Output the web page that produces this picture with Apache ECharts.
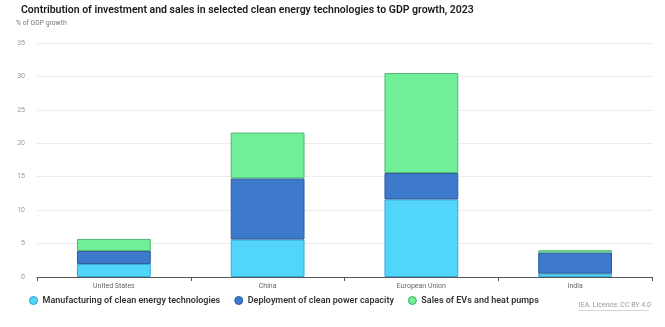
<!DOCTYPE html>
<html>
<head>
<meta charset="utf-8">
<script src="https://cdn.jsdelivr.net/npm/echarts@6/dist/echarts.min.js"></script>
<style>
  html, body { margin: 0; padding: 0; background: #fff; }
  #chart { width: 665px; height: 327px; }
</style>
</head>
<body>
<div id="chart"></div>
<script>
// Regions on the category axis
const regions = ['United States', 'China', 'European Union', 'India'];

// Contribution to GDP growth, % of GDP growth
const manufacturing = [1.95, 5.6, 11.6, 0.5];
const deployment = [1.95, 9.15, 3.95, 3.15];
const salesEVsHeatPumps = [1.8, 6.85, 14.95, 0.35];

// Value axis ticks
const yMin = 0, yMax = 35, yStep = 5;

const FONT = 'Roboto, "Noto Sans", sans-serif';

function stackSeries(name, data, color, border) {
  return {
    name: name,
    type: 'bar',
    stack: 'total',
    data: data,
    barWidth: '48%',
    itemStyle: { color: color, borderColor: border, borderWidth: 1 },
    emphasis: { disabled: true }
  };
}

const chart = echarts.init(document.getElementById('chart'), null, { renderer: 'canvas' });
chart.setOption({
  animation: false,
  textStyle: { fontFamily: FONT },
  title: [
    {
      text: 'Contribution of investment and sales in selected clean energy technologies to GDP growth, 2023',
      left: 16, top: 0,
      textStyle: { fontSize: 10.5, fontWeight: 600, color: '#1a1a1a', fontFamily: FONT }
    },
    {
      text: '% of GDP growth',
      left: 11, top: 15,
      textStyle: { fontSize: 6.8, fontWeight: 400, color: '#777', fontFamily: FONT }
    }
  ],
  grid: { left: 37, right: 13, top: 43, bottom: 50, containLabel: false },
  legend: {
    left: 24, top: 291,
    icon: 'circle',
    itemWidth: 8, itemHeight: 8, itemGap: 14,
    textStyle: { fontSize: 9, fontWeight: 600, color: '#333', fontFamily: FONT },
    data: [
      { name: 'Manufacturing of clean energy technologies', itemStyle: { borderColor: '#2e9fc4', borderWidth: 1 } },
      { name: 'Deployment of clean power capacity', itemStyle: { borderColor: '#2a5c9e', borderWidth: 1 } },
      { name: 'Sales of EVs and heat pumps', itemStyle: { borderColor: '#3fae63', borderWidth: 1 } }
    ]
  },
  xAxis: {
    type: 'category',
    data: regions,
    axisLine: { lineStyle: { color: '#555', width: 1 } },
    axisTick: { show: true, length: 4, lineStyle: { color: '#555' } },
    axisLabel: { fontSize: 7, color: '#666', margin: 6 }
  },
  yAxis: {
    type: 'value',
    min: yMin, max: yMax, interval: yStep,
    axisLine: { show: false },
    axisTick: { show: false },
    axisLabel: { fontSize: 7, color: '#999', margin: 12 },
    splitLine: { lineStyle: { color: '#ececec', width: 1 } }
  },
  series: [
    stackSeries('Manufacturing of clean energy technologies', manufacturing, '#52d5fb', '#3aa8cf'),
    stackSeries('Deployment of clean power capacity', deployment, '#3e7acb', '#2b5a9c'),
    stackSeries('Sales of EVs and heat pumps', salesEVsHeatPumps, '#71ee98', '#4fb872')
  ],
  graphic: [
    {
      type: 'group',
      right: 14, top: 302,
      children: [
        { type: 'text', left: 0, top: 0,
          style: { text: 'IEA. Licence: CC BY 4.0', fontSize: 7, fill: '#999', fontFamily: FONT } },
        { type: 'rect', left: 0, top: 8.5,
          shape: { width: 70, height: 0.6 }, style: { fill: '#aaa' } }
      ]
    }
  ]
});
</script>
</body>
</html>
